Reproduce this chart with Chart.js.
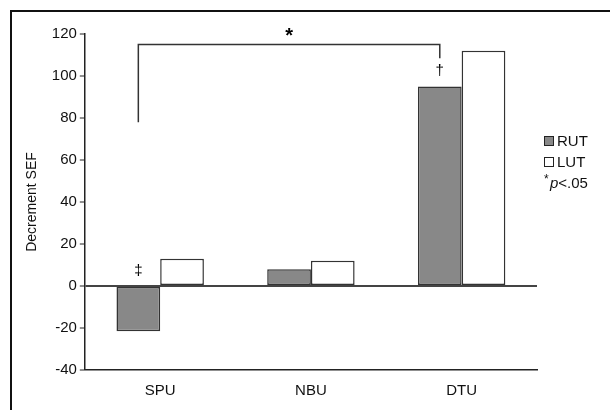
<!DOCTYPE html>
<html>
<head>
<meta charset="utf-8">
<script src="https://cdn.jsdelivr.net/npm/chart.js@4.4.0/dist/chart.umd.min.js"></script>
<style>
  html, body { margin: 0; padding: 0; background: #fff; }
  #wrap { width: 610px; height: 410px; }
</style>
</head>
<body>
<div id="wrap"><canvas id="chart" width="610" height="410"></canvas></div>
<script>
// data
const categories = ["SPU", "NBU", "DTU"];
const seriesNames = ["RUT", "LUT"];
const rutValues = [-21.5, 8, 95];
const lutValues = [13, 12, 112];
const yTicks = [-40, -20, 0, 20, 40, 60, 80, 100, 120];

// significance marks (data units)
const bracket = { from: 0, to: 2, leftEnd: 78, top: 115, rightEnd: 108.5 };
const markers = [
  { text: "\u2021", cat: 0, value: 7 },
  { text: "\u2020", cat: 2, value: 102.5 }
];

const FONT = "Liberation Sans, Arial, sans-serif";

// draws frame, bracket, daggers and the small legend
const extras = {
  id: "extras",
  afterDraw(chart) {
    const ctx = chart.ctx;
    const y = chart.scales.y;
    const rut = chart.getDatasetMeta(0).data;

    ctx.save();
    // outer frame (top + left only)
    ctx.strokeStyle = "#111";
    ctx.lineWidth = 2;
    ctx.beginPath();
    ctx.moveTo(11, 410);
    ctx.lineTo(11, 11);
    ctx.lineTo(610, 11);
    ctx.stroke();

    // bracket between SPU and DTU
    const xl = rut[bracket.from].x, xr = rut[bracket.to].x;
    ctx.strokeStyle = "#333";
    ctx.lineWidth = 1.5;
    ctx.beginPath();
    ctx.moveTo(xl, y.getPixelForValue(bracket.leftEnd));
    ctx.lineTo(xl, y.getPixelForValue(bracket.top));
    ctx.lineTo(xr, y.getPixelForValue(bracket.top));
    ctx.lineTo(xr, y.getPixelForValue(bracket.rightEnd));
    ctx.stroke();

    ctx.fillStyle = "#000";
    ctx.textAlign = "center";
    ctx.textBaseline = "middle";
    ctx.font = "bold 20px " + FONT;
    ctx.fillText("*", (xl + xr) / 2, y.getPixelForValue(bracket.top) - 8);

    ctx.font = "15px " + FONT;
    markers.forEach(m => {
      ctx.fillText(m.text, rut[m.cat].x, y.getPixelForValue(m.value));
    });

    // legend
    const lx = 544;
    const rows = [
      { name: seriesNames[0], fill: "#888888", cy: 141 },
      { name: seriesNames[1], fill: "#ffffff", cy: 162 }
    ];
    ctx.textAlign = "left";
    ctx.font = "15px " + FONT;
    rows.forEach(r => {
      ctx.fillStyle = r.fill;
      ctx.fillRect(lx, r.cy - 5, 10, 10);
      ctx.strokeStyle = "#222";
      ctx.lineWidth = 1;
      ctx.strokeRect(lx + 0.5, r.cy - 4.5, 9, 9);
      ctx.fillStyle = "#111";
      ctx.fillText(r.name, lx + 13, r.cy + 1);
    });
    ctx.font = "12px " + FONT;
    ctx.fillText("*", lx, 180);
    ctx.font = "italic 15px " + FONT;
    ctx.fillText("p", lx + 6, 184);
    const pw = ctx.measureText("p").width;
    ctx.font = "15px " + FONT;
    ctx.fillText("<.05", lx + 6 + pw, 184);
    ctx.restore();
  }
};

const ctx = document.getElementById("chart").getContext("2d");
new Chart(ctx, {
  type: "bar",
  data: {
    labels: categories,
    datasets: [
      {
        label: seriesNames[0],
        data: rutValues,
        backgroundColor: "#888888",
        borderColor: "#333",
        borderWidth: 1.5,
        borderSkipped: false
      },
      {
        label: seriesNames[1],
        data: lutValues,
        backgroundColor: "#ffffff",
        borderColor: "#333",
        borderWidth: 1.5,
        borderSkipped: false
      }
    ]
  },
  options: {
    responsive: false,
    animation: false,
    layout: { padding: { left: 24, right: 73, top: 34, bottom: 6 } },
    categoryPercentage: 0.58,
    barPercentage: 1.0,
    plugins: {
      legend: { display: false },
      tooltip: { enabled: false }
    },
    scales: {
      x: {
        grid: { display: false },
        border: { display: true, color: "#222", width: 1.5 },
        ticks: { color: "#111", font: { family: FONT, size: 15 }, padding: 4 }
      },
      y: {
        min: -40,
        max: 120,
        afterBuildTicks(axis) {
          axis.ticks = yTicks.map(v => ({ value: v }));
        },
        grid: {
          drawOnChartArea: true,
          color: c => (c.tick && c.tick.value === 0 ? "#444" : "rgba(0,0,0,0)"),
          lineWidth: c => (c.tick && c.tick.value === 0 ? 2 : 0),
          tickColor: "#222",
          tickLength: 5,
          tickWidth: 1
        },
        border: { display: true, color: "#222", width: 1.5 },
        ticks: { color: "#111", font: { family: FONT, size: 15 }, padding: 3 },
        title: {
          display: true,
          text: "Decrement SEF",
          color: "#111",
          font: { family: FONT, size: 14 },
          padding: { top: 0, bottom: 8 }
        }
      }
    }
  },
  plugins: [extras]
});
</script>
</body>
</html>
